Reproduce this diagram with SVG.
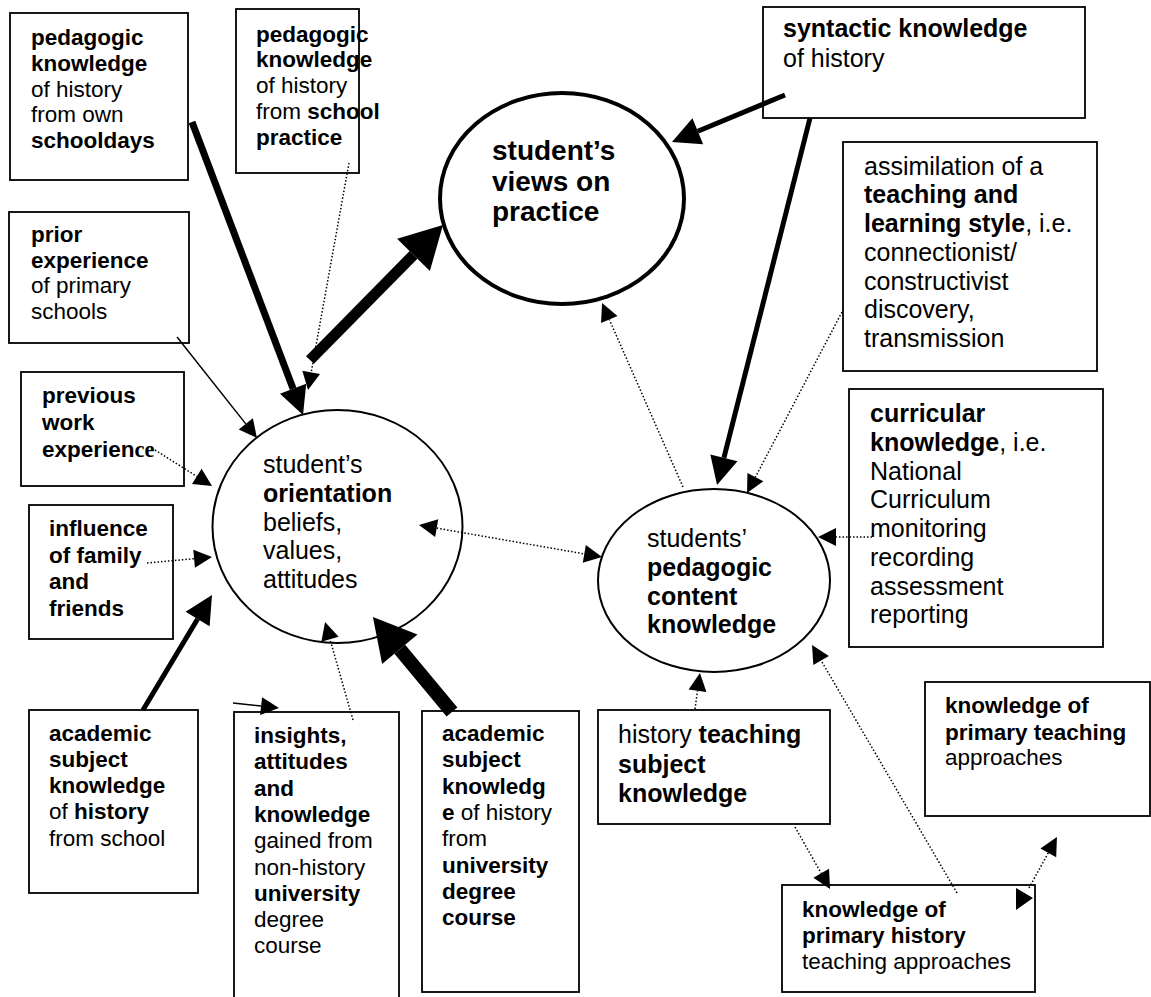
<svg xmlns="http://www.w3.org/2000/svg" width="1151" height="997" viewBox="0 0 1151 997">
<style>
.t{font-family:"Liberation Sans",Arial,sans-serif;fill:#000}
.s22{font-size:22.5px}
.s25{font-size:25px}
.s28{font-size:28px}
.b{font-weight:bold}
.serif{font-family:"Liberation Serif","Times New Roman",serif}
.box{fill:#fff;stroke:#000;stroke-width:1.8}
.ell{fill:#fff;stroke:#000;stroke-width:2}
.dot{fill:none;stroke:#000;stroke-width:1.5;stroke-dasharray:1.5 2}
.thin{fill:none;stroke:#000;stroke-width:1.5}
.med{fill:none;stroke:#000;stroke-width:5}
.thk{fill:none;stroke:#000;stroke-width:7}
.xthk{fill:none;stroke:#000;stroke-width:11}
.xxthk{fill:none;stroke:#000;stroke-width:14}
.ah{fill:#000;stroke:none}
</style>
<defs>
<marker id="ahS" markerUnits="userSpaceOnUse" markerWidth="18" markerHeight="18" refX="0" refY="9" orient="auto-start-reverse" overflow="visible"><path class="ah" d="M0,0 L18,9 L0,18 Z"/></marker>
<marker id="ahM" markerUnits="userSpaceOnUse" markerWidth="28" markerHeight="28" refX="0" refY="14" orient="auto-start-reverse" overflow="visible"><path class="ah" d="M0,0 L28,14 L0,28 Z"/></marker>
<marker id="ahL" markerUnits="userSpaceOnUse" markerWidth="42" markerHeight="46" refX="0" refY="23" orient="auto-start-reverse" overflow="visible"><path class="ah" d="M0,0 L42,23 L0,46 Z"/></marker>
</defs>
<rect width="1151" height="997" fill="#fff"/>

<g id="pedagogic-schooldays">
<rect class="box" x="10" y="13" width="178" height="167"/>
<text class="t s22"><tspan class="b" x="31" y="45">pedagogic</tspan><tspan class="b" x="31" y="70.8">knowledge</tspan><tspan x="31" y="96.6">of history</tspan><tspan x="31" y="122.4">from own</tspan><tspan class="b" x="31" y="148.2">schooldays</tspan></text>
</g>

<g id="pedagogic-school-practice">
<rect class="box" x="236" y="9" width="123" height="164"/>
<text class="t s22"><tspan class="b" x="256" y="41.5">pedagogic</tspan><tspan class="b" x="256" y="67.3">knowledge</tspan><tspan x="256" y="93.1">of history</tspan><tspan x="256" y="118.9">from <tspan class="b">school</tspan></tspan><tspan class="b" x="256" y="144.7">practice</tspan></text>
</g>

<g id="prior-experience">
<rect class="box" x="9" y="212" width="180" height="131"/>
<text class="t s22"><tspan class="b" x="31" y="242">prior</tspan><tspan class="b" x="31" y="267.6">experience</tspan><tspan x="31" y="293.2">of primary</tspan><tspan x="31" y="318.8">schools</tspan></text>
</g>

<g id="previous-work">
<rect class="box" x="21" y="372" width="163" height="114"/>
<text class="t s22 b"><tspan x="42" y="403">previous</tspan><tspan x="42" y="430">work</tspan><tspan x="42" y="456.5">experien<tspan class="serif">ce</tspan></tspan></text>
</g>

<g id="influence-family">
<rect class="box" x="29" y="505" width="144" height="134"/>
<text class="t s22 b"><tspan x="49" y="536">influence</tspan><tspan x="49" y="562.6">of family</tspan><tspan x="49" y="589.2">and</tspan><tspan x="49" y="615.8">friends</tspan></text>
</g>

<g id="academic-school">
<rect class="box" x="29" y="710" width="169" height="183"/>
<text class="t s22"><tspan class="b" x="49" y="740.5">academic</tspan><tspan class="b" x="49" y="766.8">subject</tspan><tspan class="b" x="49" y="793.1">knowledge</tspan><tspan x="49" y="819.4">of <tspan class="b">history</tspan></tspan><tspan x="49" y="845.7">from school</tspan></text>
</g>

<g id="insights">
<rect class="box" x="234" y="712" width="165" height="300"/>
<text class="t s22"><tspan class="b" x="254" y="743">insights,</tspan><tspan class="b" x="254" y="769.3">attitudes</tspan><tspan class="b" x="254" y="795.6">and</tspan><tspan class="b" x="254" y="821.9">knowledge</tspan><tspan x="254" y="848.2">gained from</tspan><tspan x="254" y="874.5">non-history</tspan><tspan class="b" x="254" y="900.8">university</tspan><tspan x="254" y="927.1">degree</tspan><tspan x="254" y="953.4">course</tspan></text>
</g>

<g id="academic-university">
<rect class="box" x="422" y="711" width="157" height="281"/>
<text class="t s22"><tspan class="b" x="442" y="741">academic</tspan><tspan class="b" x="442" y="767.3">subject</tspan><tspan class="b" x="442" y="793.6">knowledg</tspan><tspan x="442" y="819.9"><tspan class="b">e</tspan> of history</tspan><tspan x="442" y="846.2">from</tspan><tspan class="b" x="442" y="872.5">university</tspan><tspan class="b" x="442" y="898.8">degree</tspan><tspan class="b" x="442" y="925.1">course</tspan></text>
</g>

<g id="history-teaching-subject">
<rect class="box" x="598" y="710" width="232" height="114"/>
<text class="t s25"><tspan x="618" y="743">history <tspan class="b">teaching</tspan></tspan><tspan class="b" x="618" y="772.5">subject</tspan><tspan class="b" x="618" y="802">knowledge</tspan></text>
</g>

<g id="primary-teaching">
<rect class="box" x="925" y="682" width="225" height="134"/>
<text class="t s22"><tspan class="b" x="945" y="713">knowledge of</tspan><tspan class="b" x="945" y="739.5">primary teaching</tspan><tspan x="945" y="765">approaches</tspan></text>
</g>

<g id="primary-history">
<rect class="box" x="782" y="885" width="253" height="107"/>
<text class="t s22"><tspan class="b" x="802" y="917">knowledge of</tspan><tspan class="b" x="802" y="943">primary history</tspan><tspan x="802" y="968.5">teaching approaches</tspan></text>
</g>

<g id="syntactic">
<rect class="box" x="763" y="7" width="322" height="111"/>
<text class="t s25"><tspan class="b" x="783" y="37">syntactic knowledge</tspan><tspan x="783" y="66.5">of history</tspan></text>
</g>

<g id="assimilation">
<rect class="box" x="843" y="142" width="254" height="229"/>
<text class="t s25"><tspan x="864" y="174.5">assimilation of a</tspan><tspan class="b" x="864" y="203.3">teaching and</tspan><tspan x="864" y="232"><tspan class="b">learning style</tspan>, i.e.</tspan><tspan x="864" y="260.8">connectionist/</tspan><tspan x="864" y="289.5">constructivist</tspan><tspan x="864" y="318.3">discovery,</tspan><tspan x="864" y="347">transmission</tspan></text>
</g>

<g id="curricular">
<rect class="box" x="849" y="389" width="254" height="258"/>
<text class="t s25"><tspan class="b" x="870" y="422">curricular</tspan><tspan x="870" y="450.8"><tspan class="b">knowledge</tspan>, i.e.</tspan><tspan x="870" y="479.5">National</tspan><tspan x="870" y="508.3">Curriculum</tspan><tspan x="870" y="537">monitoring</tspan><tspan x="870" y="565.8">recording</tspan><tspan x="870" y="594.5">assessment</tspan><tspan x="870" y="623.3">reporting</tspan></text>
</g>

<g id="views-on-practice">
<ellipse class="ell" cx="562" cy="198.5" rx="122" ry="105.5" stroke-width="4" style="stroke-width:4"/>
<text class="t s28 b"><tspan x="492" y="160">student’s</tspan><tspan x="492" y="190.5">views on</tspan><tspan x="492" y="221">practice</tspan></text>
</g>

<g id="orientation">
<ellipse class="ell" cx="337.5" cy="526.5" rx="125" ry="116.5"/>
<text class="t s25"><tspan x="263" y="473">student’s</tspan><tspan class="b" x="263" y="501.8">orientation</tspan><tspan x="263" y="530.5">beliefs,</tspan><tspan x="263" y="559.3">values,</tspan><tspan x="263" y="588">attitudes</tspan></text>
</g>

<g id="pedagogic-content-knowledge">
<ellipse class="ell" cx="714" cy="580.5" rx="116" ry="91.5"/>
<text class="t s25"><tspan x="647" y="547">students’</tspan><tspan class="b" x="647" y="575.8">pedagogic</tspan><tspan class="b" x="647" y="604.5">content</tspan><tspan class="b" x="647" y="633.3">knowledge</tspan></text>
</g>

<g id="connectors">
<line class="thk" x1="192" y1="122" x2="293.1" y2="388.8" marker-end="url(#ahM)"/>
<line class="xthk" x1="310" y1="360" x2="413.5" y2="254.9" marker-end="url(#ahL)"/>
<line class="dot" x1="349" y1="163" x2="311.2" y2="372.3" marker-end="url(#ahS)"/>
<line class="thin" x1="177" y1="337" x2="245.8" y2="423.9" marker-end="url(#ahS)"/>
<line class="dot" x1="155" y1="450" x2="196.8" y2="476.4" marker-end="url(#ahS)"/>
<line class="dot" x1="147" y1="563" x2="194.1" y2="558.7" marker-end="url(#ahS)"/>
<line class="med" x1="143" y1="710" x2="197.6" y2="619" marker-end="url(#ahM)"/>
<line class="dot" x1="353" y1="720" x2="330" y2="639.3" marker-end="url(#ahS)"/>
<line class="xxthk" x1="452" y1="712" x2="399.8" y2="649.3" marker-end="url(#ahL)"/>
<line class="thin" x1="233" y1="703" x2="261.1" y2="706.1" marker-end="url(#ahS)"/>
<line class="dot" x1="436.7" y1="528.1" x2="584.3" y2="553.9" marker-start="url(#ahS)" marker-end="url(#ahS)"/>
<line class="dot" x1="683" y1="487" x2="609.3" y2="319.5" marker-end="url(#ahS)"/>
<line class="med" x1="785" y1="95" x2="697.8" y2="131.2" marker-end="url(#ahM)"/>
<line class="med" x1="810" y1="118" x2="723.9" y2="457.9" marker-end="url(#ahM)"/>
<line class="dot" x1="842" y1="312" x2="755.4" y2="477.1" marker-end="url(#ahS)"/>
<line class="dot" x1="872" y1="537" x2="836" y2="537" marker-end="url(#ahS)"/>
<line class="dot" x1="695" y1="709" x2="697.5" y2="690.8" marker-end="url(#ahS)"/>
<line class="dot" x1="795" y1="827" x2="821.2" y2="873.3" marker-end="url(#ahS)"/>
<line class="dot" x1="957" y1="893" x2="821.1" y2="660.5" marker-end="url(#ahS)"/>
<line class="dot" x1="1029" y1="888" x2="1048.3" y2="852.8" marker-end="url(#ahS)"/>
<polygon class="ah" points="1016,888 1033,898 1016,910"/>
</g>
</svg>
